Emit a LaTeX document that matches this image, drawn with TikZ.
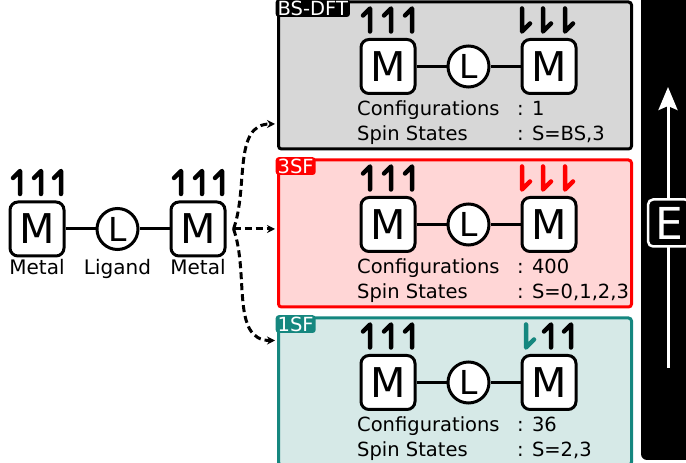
\documentclass[tikz,border=0pt]{standalone}
\usepackage{fontspec}
\setmainfont{DejaVu Sans}
\usetikzlibrary{arrows.meta, positioning, calc}

\definecolor{bsgray}{HTML}{D7D7D7}
\definecolor{sfpink}{HTML}{FFD6D6}
\definecolor{sfteal}{HTML}{D6E9E7}
\definecolor{tealdark}{HTML}{15877F}

\begin{document}
\begin{tikzpicture}[
  x=1pt, y=1pt,
  every node/.style={font=\fontsize{19.5}{23}\selectfont, inner sep=0pt},
  metal/.style ={rectangle, draw, line width=3pt, rounded corners=8pt, fill=white,
                 minimum width=54pt, minimum height=54pt, font=\fontsize{41}{41}\selectfont},
  ligand/.style={circle, draw, line width=3pt, fill=white, minimum size=41pt,
                 font=\fontsize{33}{33}\selectfont},
  bond/.style  ={line width=3pt},
  panel/.style ={rectangle, draw, line width=3pt, rounded corners=3pt,
                 minimum width=353pt, minimum height=147pt},
  tab/.style   ={anchor=north west, fill=black, text=white, rounded corners=3pt,
                 inner xsep=2pt, inner ysep=1.5pt, font=\fontsize{19.5}{19.5}\selectfont},
  lbl/.style   ={anchor=base, font=\fontsize{20}{20}\selectfont},
  spin/.style  ={line width=4.5pt, line cap=round, line join=round},
  flow/.style  ={-{Stealth[length=8pt,width=8pt]}, line width=3pt,
                 dash pattern=on 7pt off 4pt, shorten >=2pt},
  spinup/.pic  ={\draw[spin] (0,0) -- (0,23) -- (-7,16);},
  spindown/.pic={\draw[spin] (0,23) -- (0,0) -- (8,8);},
]
\useasboundingbox (0,0) rectangle (686,463);

% Energy axis
\fill[black, rounded corners=6pt] (641,3) rectangle (700,470);
\coordinate (ebot) at (668,95);
\coordinate (etop) at (668,376);
\draw[white, line width=3pt, -{Stealth[length=23pt,width=19pt,inset=4pt]}] (ebot) -- (etop);
\node[draw=white, fill=black, text=white, line width=2.5pt, rounded corners=5pt,
      minimum height=47pt, inner xsep=7pt, font=\fontsize{44}{44}\selectfont] (en) at (669,240) {E};

% Free dimer
\node[metal]                     (lm1) at (37,234) {M};
\node[ligand, right=30pt of lm1] (ll)  {L};
\node[metal, right=30pt of ll]   (lm2) {M};
\draw[bond] (lm1) -- (ll) -- (lm2);
\node[lbl] (tlm1) at (lm1 |- 0,188) {Metal};
\node[lbl] (tll)  at (ll |- 0,188)  {Ligand};
\node[lbl] (tlm2) at (lm2 |- 0,188) {Metal};
\foreach \dx in {-17,4,24} {
  \pic at ($(lm1.north)+(\dx,6.5)$) {spinup};
  \pic at ($(lm2.north)+(\dx,6.5)$) {spinup};
}

% Panels
\node[panel, fill=bsgray]                 (bsdft) at (455,387.5) {};
\node[panel, draw=red, fill=sfpink, below=8pt of bsdft]  (sf3) {};
\node[panel, draw=tealdark, fill=sfteal, below=8pt of sf3] (sf1) {};
\node[tab]                 (tbsdft) at ([shift={(-1.5pt,1.5pt)}]bsdft.north west) {BS-DFT};
\node[tab, fill=red]       (tsf3)   at ([shift={(-1.5pt,1.5pt)}]sf3.north west)   {3SF};
\node[tab, fill=tealdark]  (tsf1)   at ([shift={(-1.5pt,1.5pt)}]sf1.north west)   {1SF};

\foreach \p/\n/\s in {bsdft/1/{S=BS,3}, sf3/400/{S=0,1,2,3}, sf1/36/{S=2,3}} {
  \node[metal]                      (\p-m1) at ($(\p.north west)+(111,-66)$) {M};
  \node[ligand, right=30pt of \p-m1] (\p-l)  {L};
  \node[metal, right=30pt of \p-l]   (\p-m2) {M};
  \draw[bond] (\p-m1) -- (\p-l) -- (\p-m2);
  \node[anchor=base west] (\p-c)  at ($(\p.north west)+(80,-115)$)  {Configurations};
  \node[anchor=base west] (\p-s)  at ($(\p.north west)+(80,-140)$)  {Spin States};
  \node[anchor=base west] (\p-cv) at ($(\p.north west)+(240,-115)$) {: \n};
  \node[anchor=base west] (\p-sv) at ($(\p.north west)+(240,-140)$) {: \s};
  \foreach \dx in {-18,3,24}
    \pic at ($(\p-m1.north)+(\dx,6.5)$) {spinup};
}

% Spins on the second metal
\foreach \dx in {-27,-6,16} {
  \pic at ($(bsdft-m2.north)+(\dx,6.5)$) {spindown};
  \pic[red] at ($(sf3-m2.north)+(\dx,6.5)$) {spindown};
}
\pic[tealdark] at ($(sf1-m2.north)+(-23,6.5)$) {spindown};
\pic at ($(sf1-m2.north)+(2,6.5)$) {spinup};
\pic at ($(sf1-m2.north)+(22,6.5)$) {spinup};

% Connectors
\coordinate (fork) at ([xshift=7pt]lm2.east);
\draw[flow] (fork) -- (fork -| sf3.west);
\draw[flow] (fork) to[out=70, in=180]  ([yshift=-48.5pt]bsdft.west);
\draw[flow] (fork) to[out=-70, in=180] ([yshift=51pt]sf1.west);

\end{tikzpicture}
\end{document}
